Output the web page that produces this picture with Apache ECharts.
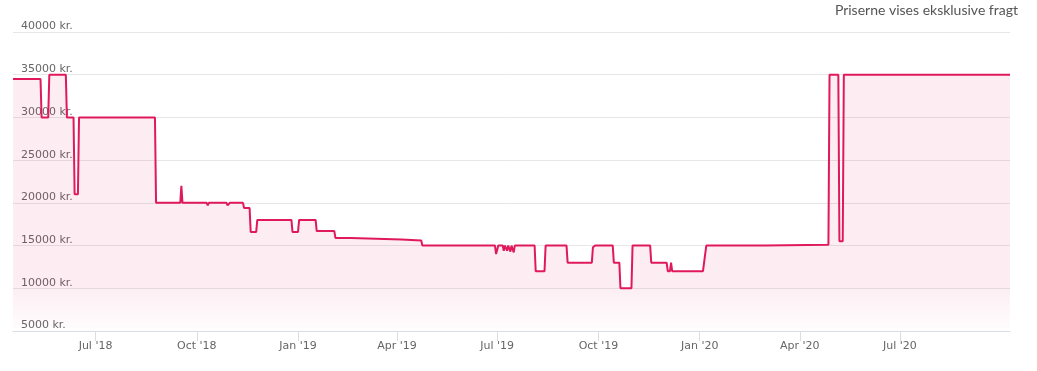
<!DOCTYPE html>
<html>
<head>
<meta charset="utf-8">
<script src="https://cdn.jsdelivr.net/npm/echarts@6/dist/echarts.min.js"></script>
<style>
  html, body { margin: 0; padding: 0; background: #ffffff; }
  #chart { width: 1037px; height: 371px; }
</style>
</head>
<body>
<div id="chart"></div>
<script>
// ---- Data: price from each date on ----
const dates = [
  '2018-04-17', '2018-05-13', '2018-05-20', '2018-06-05', '2018-06-12', '2018-06-16',
  '2018-08-25', '2018-09-17', '2018-09-18', '2018-10-01', '2018-10-02', '2018-10-11',
  '2018-10-12', '2018-10-29', '2018-10-31', '2018-11-13', '2018-11-19', '2018-11-25',
  '2018-12-27', '2019-01-02', '2019-01-18', '2019-02-04', '2019-02-19', '2019-04-06',
  '2019-04-24', '2019-06-30', '2019-07-02', '2019-07-07', '2019-07-08', '2019-07-10',
  '2019-07-11', '2019-07-13', '2019-07-14', '2019-07-16', '2019-07-17', '2019-08-05',
  '2019-08-14', '2019-09-03', '2019-09-26', '2019-09-28', '2019-10-15', '2019-10-21',
  '2019-11-01', '2019-11-18', '2019-12-03', '2019-12-06', '2019-12-07', '2020-01-05',
  '2020-01-07', '2020-03-01', '2020-04-28', '2020-05-07', '2020-05-11', '2020-10-09'
];
const prices = [
  34500, 30000, 35000, 30000, 21000, 30000,
  20000, 22000, 20000, 19800, 20000, 19700,
  20000, 19700, 20000, 19400, 16600, 18000,
  16600, 18000, 16700, 15900, 15700, 15600,
  15000, 14000, 15000, 14400, 15000, 14400,
  15000, 14300, 15000, 14200, 15000, 12000,
  15000, 13000, 14800, 15000, 13000, 10000,
  15000, 13000, 12000, 13000, 12000, 13000,
  15000, 15100, 35000, 15500, 35000, 35000
];
const xTickDates = ['2018-07-01', '2018-10-01', '2019-01-01', '2019-04-01', '2019-07-01',
                    '2019-10-01', '2020-01-01', '2020-04-01', '2020-07-01'];
const xTickLabels = ["Jul '18", "Oct '18", "Jan '19", "Apr '19", "Jul '19",
                     "Oct '19", "Jan '20", "Apr '20", "Jul '20"];
const yMin = 5000, yMax = 40000, yStep = 5000;
const yUnit = ' kr.';
const titleText = 'Priserne vises eksklusive fragt';

// ---- Helpers ----
const DAY = 86400000;
function toTs(s) {
  const p = s.split('-').map(Number);
  return Date.UTC(p[0], p[1] - 1, p[2]);
}
// daily price history: each price holds until the day before the next change
const seriesData = [];
dates.forEach((d, i) => {
  const t = toTs(d);
  if (i > 0 && i < dates.length - 1) seriesData.push([t - DAY, prices[i - 1]]);
  seriesData.push([t, prices[i]]);
});
const tickTs = xTickDates.map(toTs);

const lineColor = '#e0195c';

const chart = echarts.init(document.getElementById('chart'), null, { renderer: 'canvas' });
chart.setOption({
  animation: false,
  backgroundColor: '#ffffff',
  title: {
    text: titleText,
    right: 19,
    top: 3,
    padding: 0,
    textStyle: { fontFamily: 'Lato', fontSize: 14, fontWeight: 'normal', color: '#555555' }
  },
  grid: { left: 13, right: 27, top: 32, bottom: 40, containLabel: false },
  xAxis: {
    type: 'value',
    min: toTs(dates[0]),
    max: toTs(dates[dates.length - 1]),
    axisLine: { show: true, lineStyle: { color: '#d9dee6', width: 1 } },
    axisTick: { show: true, length: 10, customValues: tickTs, lineStyle: { color: '#d9dee6' } },
    splitLine: { show: false },
    axisLabel: {
      customValues: tickTs,
      margin: 10,
      fontFamily: 'DejaVu Sans',
      fontSize: 11,
      color: '#666666',
      formatter: function (v) {
        const i = tickTs.indexOf(v);
        return i >= 0 ? xTickLabels[i] : '';
      }
    }
  },
  yAxis: {
    type: 'value',
    min: yMin,
    max: yMax,
    interval: yStep,
    axisLine: { show: false },
    axisTick: { show: false },
    splitLine: { show: true, lineStyle: { color: '#e6e6e6', width: 1 } },
    axisLabel: {
      inside: true,
      margin: 8,
      align: 'left',
      verticalAlign: 'bottom',
      fontFamily: 'DejaVu Sans',
      fontSize: 11,
      color: '#666666',
      padding: [0, 0, 0, 0],
      formatter: function (v) { return v + yUnit; }
    }
  },
  series: [{
    type: 'line',
    data: seriesData,
    showSymbol: false,
    symbol: 'none',
    lineStyle: { color: lineColor, width: 2 },
    areaStyle: {
      origin: 'start',
      color: {
        type: 'linear', x: 0, y: 0, x2: 0, y2: 1,
        colorStops: [
          { offset: 0, color: 'rgba(224,25,92,0.11)' },
          { offset: 0.82, color: 'rgba(224,25,92,0.11)' },
          { offset: 1, color: 'rgba(224,25,92,0.01)' }
        ]
      }
    }
  }]
});
</script>
</body>
</html>
